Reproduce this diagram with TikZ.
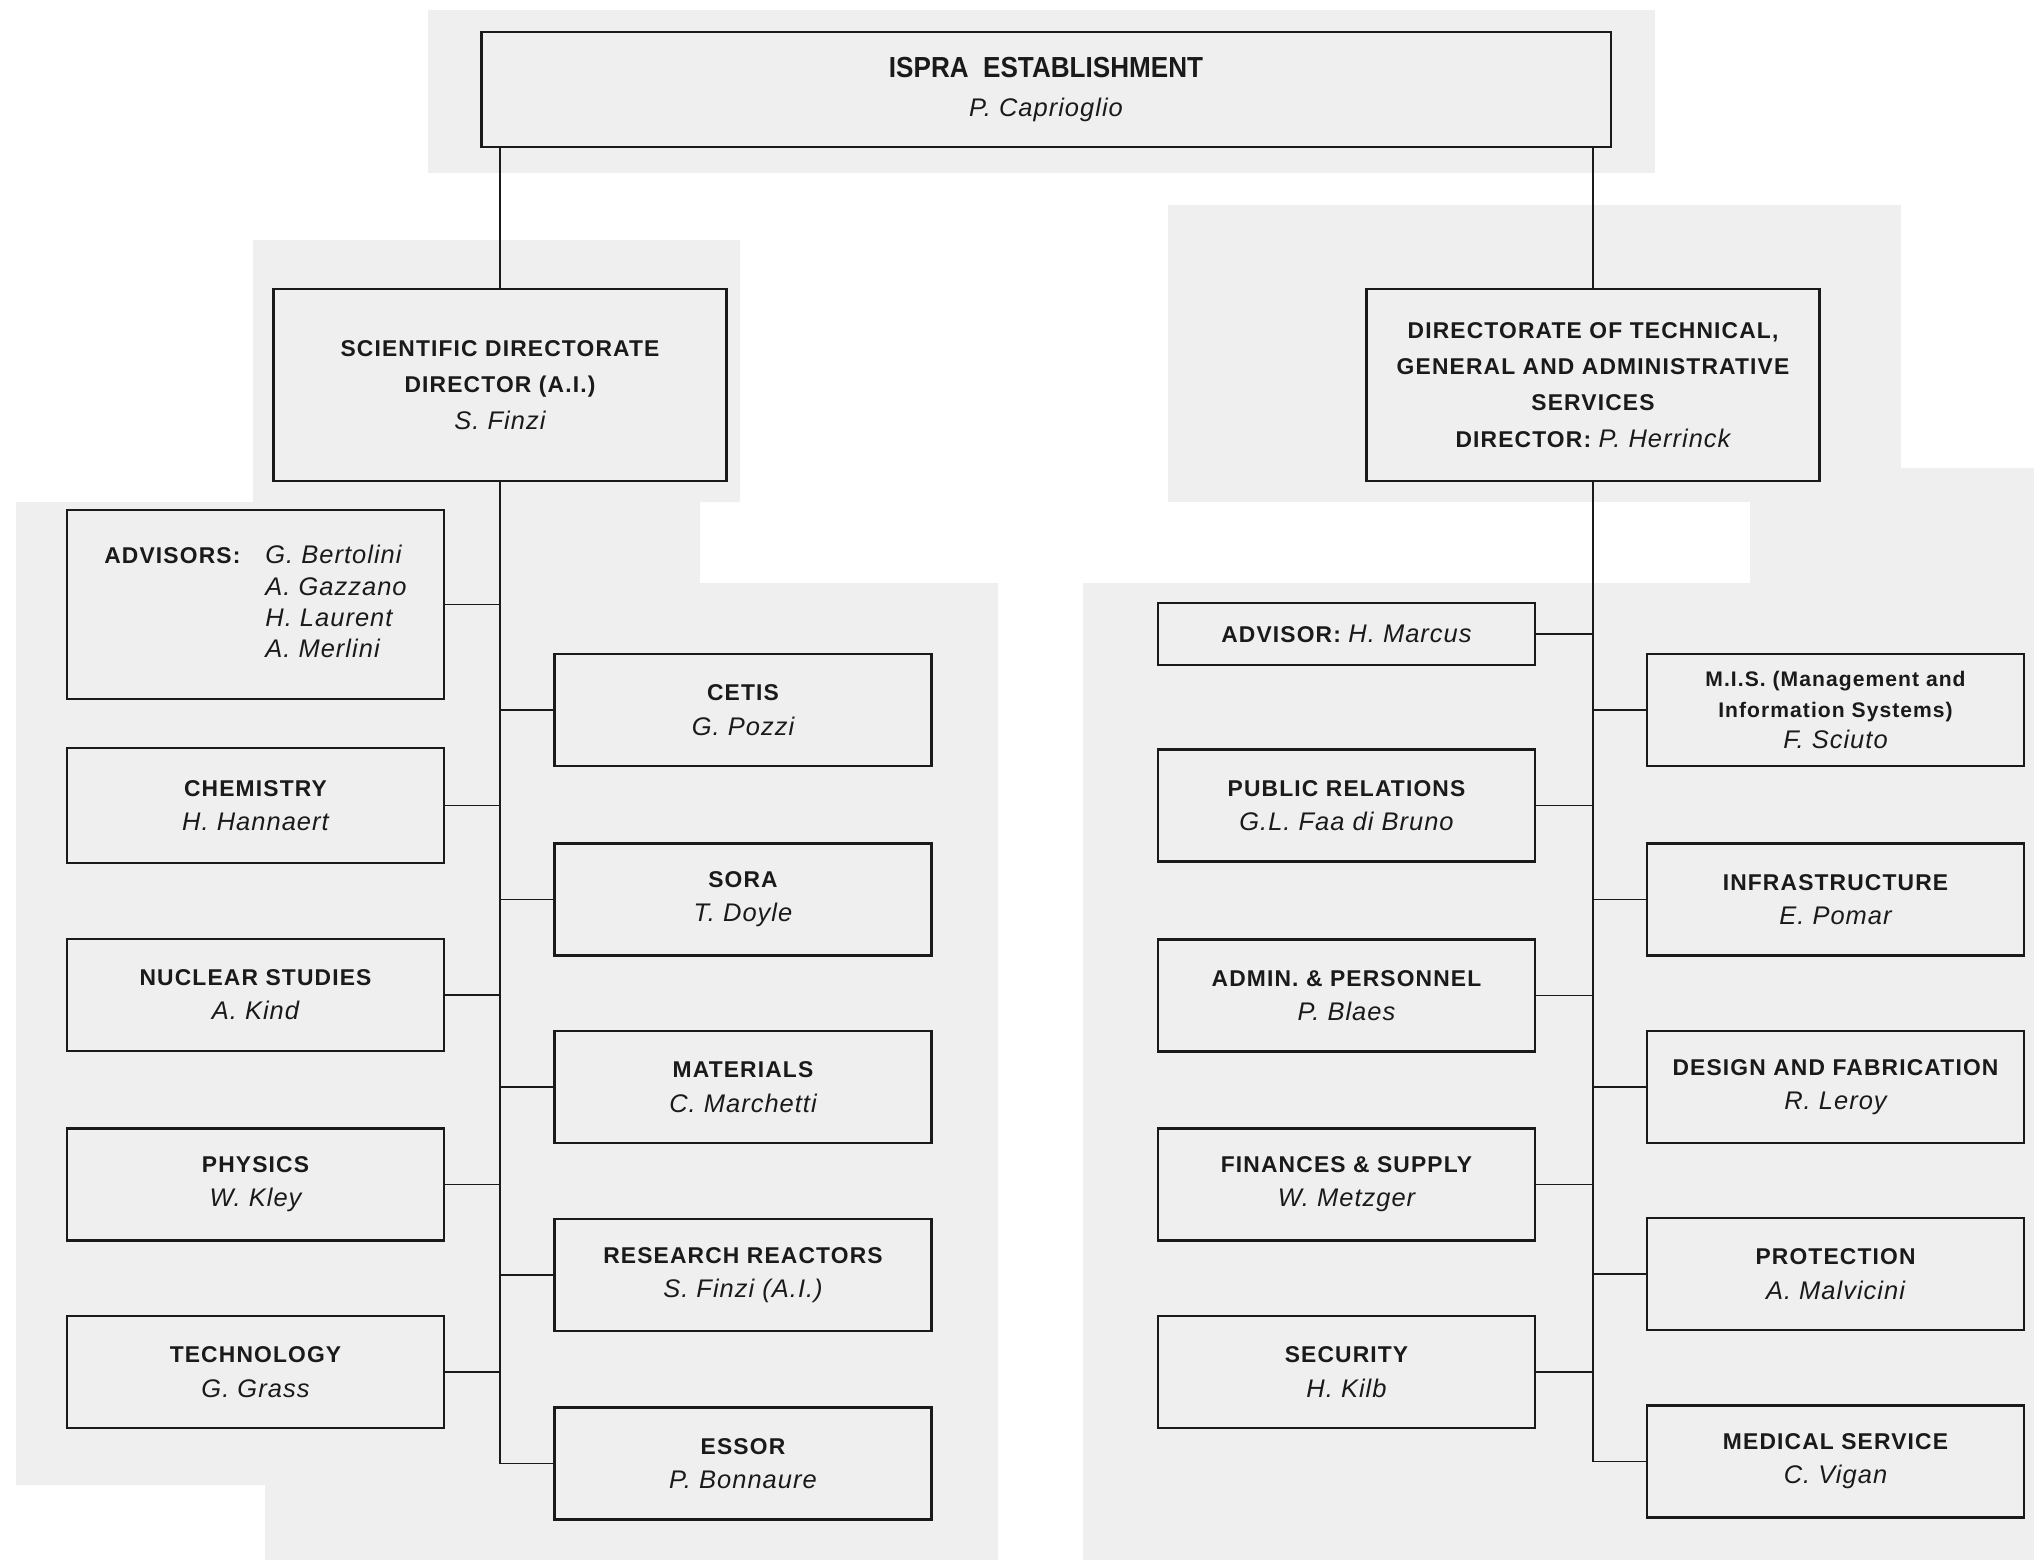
\documentclass[tikz,border=0pt]{standalone}
\usepackage{fontspec}
\usepackage{graphicx}
\setmainfont{Liberation Sans}
\newfontfamily\capsfont{Liberation Sans}[LetterSpace=5]
\newfontfamily\namefont{Liberation Sans}[LetterSpace=4]
\definecolor{bggray}{HTML}{EFEFEF}
\definecolor{ink}{HTML}{1A1A1A}
\newcommand{\nm}[1]{{\namefont\mdseries\itshape\fontsize{14.5}{17}\selectfont #1}}
\tikzset{
  unit/.style={draw=ink, line width=1.6pt, fill=bggray, text=ink, align=center, inner sep=0pt,
    minimum width=7.54cm, minimum height=2.24cm, font=\capsfont\bfseries\fontsize{13}{19.5}\selectfont},
  head/.style={unit, minimum width=9.07cm, minimum height=3.84cm, font=\capsfont\bfseries\fontsize{13}{20.6}\selectfont},
  link/.style={draw=ink, line width=1pt},
}
\begin{document}
\begin{tikzpicture}[x=0.02cm,y=-0.02cm]
        \useasboundingbox (0,0) rectangle (2034,1560);
        %BACKGROUND
        \fill[bggray] (428,10) rectangle (1655,173);
        \fill[bggray] (253,240) -- (740,240) -- (740,502) -- (700,502) -- (700,583) -- (998,583) -- (998,1560)
            -- (265,1560) -- (265,1485) -- (16,1485) -- (16,502) -- (253,502) -- cycle;
        \fill[bggray] (1168,205) rectangle (1901,502);
        \fill[bggray] (1083,583) -- (1750,583) -- (1750,468) -- (2034,468) -- (2034,1560) -- (1083,1560) -- cycle;

        %HEAD
        \node[unit, minimum width=22.6cm, minimum height=2.3cm, font=\normalfont\fontsize{16.5}{22.7}\selectfont]
            (ispra) at (1046,89.5) {\scalebox{0.9}[1]{\bfseries ISPRA\ \ ESTABLISHMENT}\\\nm{P. Caprioglio}};
        \node[head] (sci) at (500,385) {SCIENTIFIC DIRECTORATE\\DIRECTOR (A.I.)\\\nm{S. Finzi}};
        \node[head] (dir) at (1593,385) {DIRECTORATE OF TECHNICAL,\\GENERAL AND ADMINISTRATIVE\\SERVICES\\DIRECTOR: \nm{P. Herrinck}};

        %SCIENTIFIC, LEFT COLUMN
        \node[unit, minimum height=3.78cm, font=\capsfont\bfseries\fontsize{13}{17.9}\selectfont] (adv) at (255.5,604.5)
            {\begin{tabular}{@{}l@{\hspace{0.5cm}}l@{}}ADVISORS: & \nm{G. Bertolini}\\ & \nm{A. Gazzano}\\ & \nm{H. Laurent}\\ & \nm{A. Merlini}\end{tabular}};
        \node[unit, minimum height=2.3cm] (chem) at (255.5,805.5) {CHEMISTRY\\\nm{H. Hannaert}};
        \node[unit] (nuc) at (255.5,995) {NUCLEAR STUDIES\\\nm{A. Kind}};
        \node[unit] (phys) at (255.5,1184.5) {PHYSICS\\\nm{W. Kley}};
        \node[unit] (tech) at (255.5,1372) {TECHNOLOGY\\\nm{G. Grass}};
        %SCIENTIFIC, RIGHT COLUMN
        \node[unit] (cetis) at (743,710) {CETIS\\\nm{G. Pozzi}};
        \node[unit] (sora) at (743,899.5) {SORA\\\nm{T. Doyle}};
        \node[unit] (mat) at (743,1087) {MATERIALS\\\nm{C. Marchetti}};
        \node[unit] (rr) at (743,1275) {RESEARCH REACTORS\\\nm{S. Finzi (A.I.)}};
        \node[unit] (essor) at (743,1463.5) {ESSOR\\\nm{P. Bonnaure}};

        %SERVICES, LEFT COLUMN
        \node[unit, minimum height=1.24cm] (marcus) at (1346.5,634) {ADVISOR: \nm{H. Marcus}};
        \node[unit] (pr) at (1346.5,805.5) {PUBLIC RELATIONS\\\nm{G.L. Faa di Bruno}};
        \node[unit] (adm) at (1346.5,995.5) {ADMIN. \& PERSONNEL\\\nm{P. Blaes}};
        \node[unit] (fin) at (1346.5,1184.5) {FINANCES \& SUPPLY\\\nm{W. Metzger}};
        \node[unit] (sec) at (1346.5,1372) {SECURITY\\\nm{H. Kilb}};
        %SERVICES, RIGHT COLUMN
        \node[unit, font=\capsfont\bfseries\fontsize{12}{17.6}\selectfont] (mis) at (1835.5,710)
            {M.I.S. (Management and\\Information Systems)\\\nm{F. Sciuto}};
        \node[unit] (infra) at (1835.5,899.5) {INFRASTRUCTURE\\\nm{E. Pomar}};
        \node[unit] (des) at (1835.5,1087) {DESIGN AND FABRICATION\\\nm{R. Leroy}};
        \node[unit] (prot) at (1835.5,1274) {PROTECTION\\\nm{A. Malvicini}};
        \node[unit] (med) at (1835.5,1461.5) {MEDICAL SERVICE\\\nm{C. Vigan}};

        %LINKS
        \draw[link] (sci.north) -- (sci.north |- ispra.south);
        \draw[link] (dir.north) -- (dir.north |- ispra.south);
        \draw[link] (sci.south) -- (sci.south |- essor.west) -- (essor.west);
        \draw[link] (dir.south) -- (dir.south |- med.west) -- (med.west);
        \foreach \n in {adv,chem,nuc,phys,tech}
            \draw[link] (\n.east) -- (\n.east -| sci.south);
        \foreach \n in {cetis,sora,mat,rr}
            \draw[link] (\n.west) -- (\n.west -| sci.south);
        \foreach \n in {marcus,pr,adm,fin,sec}
            \draw[link] (\n.east) -- (\n.east -| dir.south);
        \foreach \n in {mis,infra,des,prot}
            \draw[link] (\n.west) -- (\n.west -| dir.south);
\end{tikzpicture}
\end{document}
